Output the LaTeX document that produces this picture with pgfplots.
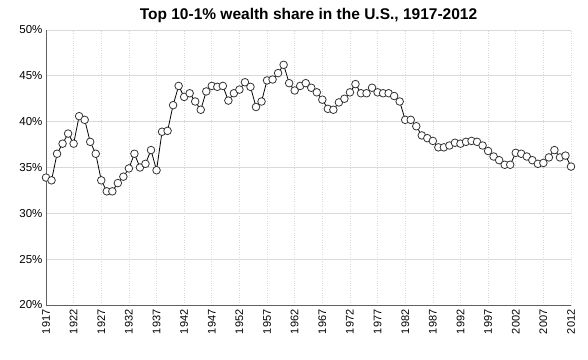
\documentclass[border=0pt]{standalone}
\usepackage{fontspec}
\setmainfont{Liberation Sans}
\usepackage{pgfplots}
\pgfplotsset{compat=1.18}
\usepackage{pgfplotstable}
\pgfplotstableread{
year share
1917 33.9
1918 33.6
1919 36.5
1920 37.6
1921 38.7
1922 37.6
1923 40.6
1924 40.2
1925 37.8
1926 36.5
1927 33.6
1928 32.4
1929 32.4
1930 33.3
1931 34.0
1932 34.9
1933 36.5
1934 35.0
1935 35.4
1936 36.9
1937 34.7
1938 38.9
1939 39.0
1940 41.8
1941 43.9
1942 42.7
1943 43.1
1944 42.2
1945 41.3
1946 43.3
1947 43.9
1948 43.8
1949 43.9
1950 42.3
1951 43.1
1952 43.5
1953 44.3
1954 43.8
1955 41.6
1956 42.2
1957 44.5
1958 44.6
1959 45.3
1960 46.2
1961 44.2
1962 43.4
1963 43.9
1964 44.2
1965 43.7
1966 43.2
1967 42.4
1968 41.4
1969 41.3
1970 42.1
1971 42.5
1972 43.2
1973 44.1
1974 43.1
1975 43.1
1976 43.7
1977 43.2
1978 43.1
1979 43.1
1980 42.8
1981 42.2
1982 40.2
1983 40.2
1984 39.5
1985 38.5
1986 38.2
1987 37.9
1988 37.2
1989 37.2
1990 37.4
1991 37.7
1992 37.6
1993 37.8
1994 37.9
1995 37.8
1996 37.4
1997 36.8
1998 36.2
1999 35.8
2000 35.3
2001 35.3
2002 36.6
2003 36.5
2004 36.2
2005 35.8
2006 35.4
2007 35.5
2008 36.1
2009 36.9
2010 36.1
2011 36.3
2012 35.1
}\datatable
\begin{document}
\begin{tikzpicture}
\begin{axis}[
  scale only axis,
  width=525pt, height=275pt,
  xmin=1917, xmax=2012,
  ymin=20, ymax=50,
  axis lines*=left,
  axis line style={draw=gray!75!black, line width=0.9pt},
  xtick={1917,1922,...,2012},
  xticklabels={1917,1922,1927,1932,1937,1942,1947,1952,1957,1962,1967,1972,1977,1982,1987,1992,1997,2002,2007,2012},
  ytick={20,25,30,35,40,45,50},
  yticklabels={20\%,25\%,30\%,35\%,40\%,45\%,50\%},
  x tick label style={rotate=90, anchor=east, font=\fontsize{11}{12}\selectfont, xshift=-1pt},
  y tick label style={font=\fontsize{11.5}{12}\selectfont},
  major tick length=0pt,
  xmajorgrids, ymajorgrids,
  x grid style={dotted, gray!30, line width=0.6pt},
  y grid style={gray!30, line width=0.7pt},
  title={Top 10-1\% wealth share in the U.S., 1917-2012},
  title style={font=\bfseries\fontsize{15.5}{17}\selectfont, yshift=-2pt},
  clip=false,
]
\addplot[black, line width=0.8pt, mark=*, mark size=3.8pt,
  mark options={fill=white, draw=gray!40!black, line width=0.8pt}]
  table[x=year, y=share] {\datatable};
\end{axis}
\pgfresetboundingbox
\path[use as bounding box] (-46pt,-54pt) rectangle (542pt,305pt);
\end{tikzpicture}
\end{document}
